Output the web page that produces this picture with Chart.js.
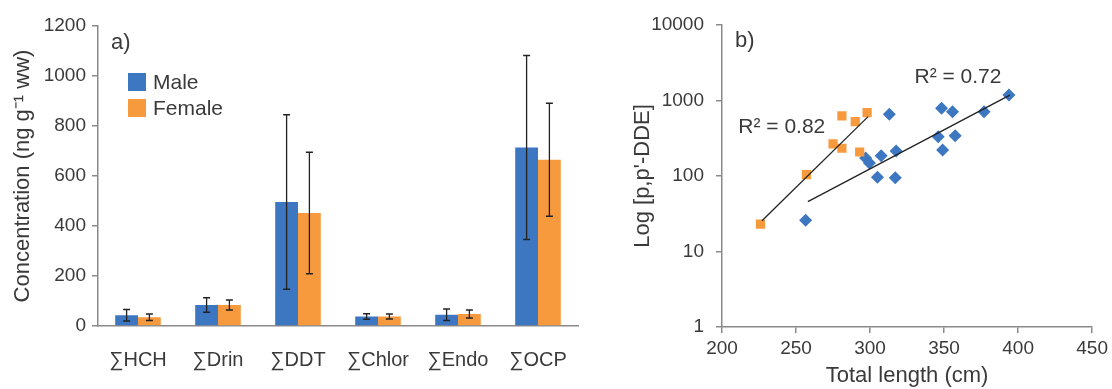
<!DOCTYPE html>
<html>
<head>
<meta charset="utf-8">
<script src="https://cdn.jsdelivr.net/npm/chart.js@4"></script>
<style>
  body { margin: 0; background: #fff; width: 1112px; height: 389px; overflow: hidden; position: relative; }
  canvas { position: absolute; top: 0; }
  #graficoA { left: 0; }
  #graficoB { left: 600px; }
</style>
</head>
<body>
<canvas id="graficoA" width="595" height="389"></canvas>
<canvas id="graficoB" width="512" height="389"></canvas>
<script>
// painel a) concentracoes por sexo
const categorias = ['∑HCH', '∑Drin', '∑DDT', '∑Chlor', '∑Endo', '∑OCP'];
const machoMedia = [43, 84, 496, 38, 45, 714];
const machoErro = [23, 29, 349, 11, 23, 368];
const femeaMedia = [35, 84, 452, 38, 48, 665];
const femeaErro = [13, 20, 243, 10, 16, 226];
const ticksConc = [0, 200, 400, 600, 800, 1000, 1200];

// painel b) p,p'-DDE x comprimento total
const femeaComprimento = [226, 257, 275, 281, 281, 290, 293, 298];
const femeaDDE = [23, 104, 266, 233, 624, 525, 208, 690];
const machoComprimento = [256.5, 297, 299.6, 305, 307.5, 313, 317, 317.6, 346, 348.3, 349, 355.7, 357.5, 377, 393.8];
const machoDDE = [26, 173, 149, 96, 186, 657, 95, 215, 332, 788, 221, 711, 342, 711, 1183];
const tendenciaFemeaX = [227, 298.7];
const tendenciaFemeaY = [25.6, 611];
const tendenciaMachoX = [258, 394.4];
const tendenciaMachoY = [45.7, 1180];
const ticksComprimento = [200, 250, 300, 350, 400, 450];
const ticksLog = [1, 10, 100, 1000, 10000];

const AZUL = '#3d76c1';
const LARANJA = '#f79a3e';
const TEXTO = '#3a3a3a';
const EIXO = '#8a8a8a';
const FONTE = "'Liberation Sans', Arial, sans-serif";

Chart.defaults.font.family = FONTE;
Chart.defaults.color = TEXTO;

const barrasErro = {
  id: 'barrasErro',
  afterDatasetsDraw(chart) {
    const ctx = chart.ctx;
    const y = chart.scales.y;
    const erros = [machoErro, femeaErro];
    ctx.save();
    ctx.strokeStyle = '#222';
    ctx.lineWidth = 1.3;
    chart.data.datasets.forEach((ds, d) => {
      chart.getDatasetMeta(d).data.forEach((barra, i) => {
        const v = ds.data[i];
        const topo = y.getPixelForValue(v + erros[d][i]);
        const base = y.getPixelForValue(v - erros[d][i]);
        ctx.beginPath();
        ctx.moveTo(barra.x, topo); ctx.lineTo(barra.x, base);
        ctx.moveTo(barra.x - 3.5, topo); ctx.lineTo(barra.x + 3.5, topo);
        ctx.moveTo(barra.x - 3.5, base); ctx.lineTo(barra.x + 3.5, base);
        ctx.stroke();
      });
    });
    ctx.restore();
  }
};

const legendaInterna = {
  id: 'legendaInterna',
  afterDraw(chart) {
    const ctx = chart.ctx;
    ctx.save();
    ctx.fillStyle = TEXTO;
    ctx.textBaseline = 'middle';
    ctx.font = '22px ' + FONTE;
    ctx.fillText('a)', 111, 43);
    ctx.font = '21px ' + FONTE;
    chart.data.datasets.forEach((ds, i) => {
      const topo = 73 + i * 26;
      ctx.fillStyle = ds.backgroundColor;
      ctx.fillRect(128, topo, 18, 18);
      ctx.fillStyle = TEXTO;
      ctx.fillText(ds.label, 153, topo + 10);
    });
    ctx.restore();
  }
};

new Chart(document.getElementById('graficoA'), {
  type: 'bar',
  data: {
    labels: categorias,
    datasets: [
      { label: 'Male', data: machoMedia, backgroundColor: AZUL },
      { label: 'Female', data: femeaMedia, backgroundColor: LARANJA }
    ]
  },
  options: {
    responsive: false,
    devicePixelRatio: 1,
    animation: false,
    layout: { padding: { top: 26, right: 17, left: 0, bottom: 0 } },
    datasets: { bar: { categoryPercentage: 0.57, barPercentage: 1 } },
    plugins: { legend: { display: false }, tooltip: { enabled: false } },
    scales: {
      x: {
        grid: { display: true, drawOnChartArea: false, drawTicks: false },
        border: { display: true, color: EIXO, width: 1.5 },
        ticks: { font: { size: 20 }, padding: 22, color: TEXTO },
        afterFit(s) { s.height = 63; }
      },
      y: {
        min: 0, max: 1200,
        afterBuildTicks(s) { s.ticks = ticksConc.map(v => ({ value: v })); },
        grid: { drawOnChartArea: false, drawTicks: true, tickLength: 6, color: EIXO, lineWidth: 1.5 },
        border: { display: true, color: EIXO, width: 1.5 },
        ticks: { font: { size: 19 }, padding: 6, color: TEXTO, callback: v => String(v) },
        title: { display: true, text: 'Concentration (ng g⁻¹ ww)', font: { size: 22 }, color: TEXTO, padding: { top: 10, bottom: 0 } },
        afterFit(s) { s.width = 98; }
      }
    }
  },
  plugins: [barrasErro, legendaInterna]
});

const textosB = {
  id: 'textosB',
  afterDraw(chart) {
    const ctx = chart.ctx;
    const x = chart.scales.x, y = chart.scales.y;
    ctx.save();
    ctx.fillStyle = TEXTO;
    ctx.textBaseline = 'middle';
    ctx.font = '22px ' + FONTE;
    ctx.fillText('b)', 135, 41);
    ctx.font = '21px ' + FONTE;
    ctx.fillText('R² = 0.72', x.getPixelForValue(330), y.getPixelForValue(2046));
    ctx.fillText('R² = 0.82', x.getPixelForValue(211), y.getPixelForValue(446));
    ctx.restore();
  }
};

new Chart(document.getElementById('graficoB'), {
  type: 'scatter',
  data: {
    datasets: [
      {
        label: 'Tendência fêmeas', type: 'line', order: 0,
        data: tendenciaFemeaX.map((x, i) => ({ x, y: tendenciaFemeaY[i] })),
        borderColor: '#222', borderWidth: 1.3, pointRadius: 0, fill: false
      },
      {
        label: 'Tendência machos', type: 'line', order: 0,
        data: tendenciaMachoX.map((x, i) => ({ x, y: tendenciaMachoY[i] })),
        borderColor: '#222', borderWidth: 1.3, pointRadius: 0, fill: false
      },
      {
        label: 'Female', order: 1,
        data: femeaComprimento.map((x, i) => ({ x, y: femeaDDE[i] })),
        pointStyle: 'rect', pointRadius: 6.5, backgroundColor: LARANJA, borderColor: LARANJA, borderWidth: 0
      },
      {
        label: 'Male', order: 1,
        data: machoComprimento.map((x, i) => ({ x, y: machoDDE[i] })),
        pointStyle: 'rectRot', pointRadius: 6.5, backgroundColor: AZUL, borderColor: AZUL, borderWidth: 0
      }
    ]
  },
  options: {
    responsive: false,
    devicePixelRatio: 1,
    animation: false,
    layout: { padding: { top: 25, right: 19, left: 0, bottom: 0 } },
    plugins: { legend: { display: false }, tooltip: { enabled: false } },
    scales: {
      x: {
        type: 'linear', min: 200, max: 450,
        afterBuildTicks(s) { s.ticks = ticksComprimento.map(v => ({ value: v })); },
        grid: { drawOnChartArea: false, drawTicks: true, tickLength: 6, color: EIXO, lineWidth: 1.5 },
        border: { display: true, color: EIXO, width: 1.5 },
        ticks: { font: { size: 19 }, padding: 4, color: TEXTO },
        title: { display: true, text: 'Total length (cm)', font: { size: 22 }, color: TEXTO, padding: { top: 0, bottom: 0 } },
        afterFit(s) { s.height = 62; }
      },
      y: {
        type: 'logarithmic', min: 1, max: 10000,
        afterBuildTicks(s) { s.ticks = ticksLog.map(v => ({ value: v })); },
        grid: { drawOnChartArea: false, drawTicks: true, tickLength: 6, color: EIXO, lineWidth: 1.5 },
        border: { display: true, color: EIXO, width: 1.5 },
        ticks: { font: { size: 19 }, padding: 12, color: TEXTO, callback: v => String(v) },
        title: { display: true, text: "Log [p,p'-DDE]", font: { size: 22 }, color: TEXTO, padding: { top: 30, bottom: 0 } },
        afterFit(s) { s.width = 122; }
      }
    }
  },
  plugins: [textosB]
});
</script>
</body>
</html>
